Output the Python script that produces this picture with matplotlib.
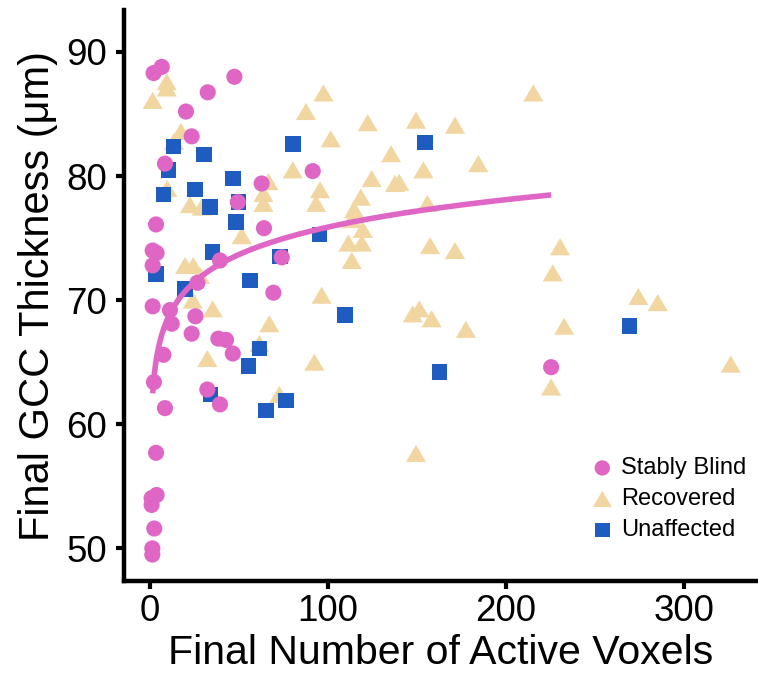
import numpy as np
import matplotlib
matplotlib.use("Agg")
import matplotlib.pyplot as plt

plt.rcParams['font.family'] = ['Liberation Sans', 'DejaVu Sans']

# Stably Blind
blind_x = [2.0, 6.6, 47.4, 32.4, 20.2, 23.4, 8.4, 91.4, 62.7, 49.3, 3.4, 64.0,
           1.5, 3.7, 1.5, 74.0, 39.3, 26.6, 69.3, 1.5, 11.2, 12.2, 25.5, 23.4,
           38.4, 42.7, 46.5, 7.5, 2.2, 32.2, 39.3, 8.4, 3.4, 3.7, 0.9, 0.9,
           2.4, 1.3, 1.3, 225.3]
blind_y = [88.3, 88.8, 88.0, 86.75, 85.2, 83.2, 81.0, 80.4, 79.4, 77.9, 76.1, 75.8,
           74.0, 73.8, 72.8, 73.45, 73.2, 71.4, 70.6, 69.5, 69.2, 68.1, 68.7, 67.3,
           66.9, 66.8, 65.7, 65.6, 63.4, 62.8, 61.6, 61.3, 57.7, 54.3, 54.05, 53.5,
           51.6, 50.0, 49.5, 64.6]

# Recovered
recov_x = [9.4, 9.4, 1.5, 17.4, 13.5, 80.2, 9.7, 66.5, 63.7, 63.7, 22.5, 29.0,
           95.5, 93.3, 51.5, 97.4, 87.6, 122.3, 149.4, 171.3, 101.5, 135.4, 153.6,
           184.4, 124.5, 137.6, 140.0, 118.4, 114.6, 113.3, 155.8, 119.5, 111.4,
           119.0, 113.3, 157.3, 171.3, 96.4, 147.6, 151.3, 158.2, 177.4, 92.3,
           149.4, 215.3, 230.3, 226.2, 274.3, 285.2, 232.6, 326.2, 225.3,
           19.7, 24.3, 28.1, 24.0, 35.2, 67.0, 61.4, 32.2, 72.6]
recov_y = [87.6, 87.1, 86.1, 83.6, 82.8, 80.5, 79.0, 79.55, 78.6, 77.8, 77.7, 77.5,
           78.9, 77.8, 75.2, 86.7, 85.2, 84.3, 84.5, 84.1, 83.0, 81.8, 80.5,
           81.0, 79.8, 79.4, 79.5, 78.3, 77.3, 76.5, 77.8, 75.7, 74.6,
           74.6, 73.2, 74.4, 74.0, 70.4, 68.9, 69.3, 68.5, 67.65, 65.0,
           57.65, 86.7, 74.3, 72.2, 70.3, 69.8, 67.9, 64.85, 63.0,
           72.8, 72.8, 72.0, 70.0, 69.3, 68.1, 66.5, 65.3, 62.4]

# Unaffected
unaff_x = [13.1, 30.3, 80.2, 10.3, 46.5, 25.3, 7.5, 33.7, 49.6, 48.3, 35.2, 3.4,
           73.0, 19.7, 56.2, 61.4, 55.2, 34.1, 76.4, 65.2, 95.1, 154.5, 109.6,
           162.5, 269.3]
unaff_y = [82.4, 81.75, 82.6, 80.5, 79.8, 78.9, 78.5, 77.5, 77.9, 76.3, 73.9, 72.1,
           73.5, 70.9, 71.6, 66.1, 64.7, 62.4, 61.9, 61.1, 75.3, 82.7, 68.8,
           64.2, 67.9]

# logarithmic fit: y = a + b*ln(x)
fit_a = 61.2
fit_b = 3.19
fit_range = (1.5, 225.3)

pink = '#E066C6'
tan = '#F2D6A2'
blue = '#1F5CBF'

tri = [(-1, -0.85), (1, -0.85), (0, 0.85)]

fig = plt.figure(figsize=(7.58, 6.73), dpi=100)
ax = fig.add_axes([0.1636, 0.1367, 0.8364, 0.8484])

ax.scatter(blind_x, blind_y, s=135, marker='o', color=pink, edgecolors='none',
           label='Stably Blind', zorder=3)
ax.scatter(recov_x, recov_y, s=210, marker=tri, color=tan, edgecolors='none',
           label='Recovered', zorder=2)
ax.scatter(unaff_x, unaff_y, s=125, marker='s', color=blue, edgecolors='none',
           label='Unaffected', zorder=2)

fx = np.linspace(fit_range[0], fit_range[1], 400)
ax.plot(fx, fit_a + fit_b * np.log(fx), color=pink, linewidth=4, zorder=4,
        solid_capstyle='butt')

ax.set_xlim(-14.6, 341.5)
ax.set_ylim(47.37, 93.38)
ax.set_xticks([0, 100, 200, 300])
ax.set_yticks([50, 60, 70, 80, 90])

for side in ['top', 'right']:
    ax.spines[side].set_visible(False)
for side in ['left', 'bottom']:
    ax.spines[side].set_linewidth(3.2)
ax.tick_params(width=3, length=6, labelsize=26.5, pad=3, colors='black')
ax.tick_params(axis='y', pad=6)

ax.set_xlabel('Final Number of Active Voxels', fontsize=29.5, labelpad=4)
ax.set_ylabel('Final GCC Thickness (μm)', fontsize=30, labelpad=6)

leg = ax.legend(loc='lower left', bbox_to_anchor=(0.779, 0.196),
                bbox_transform=fig.transFigure, frameon=False,
                fontsize=17, handlelength=1.0, handletextpad=0.3,
                labelspacing=0.38, markerscale=0.95, borderaxespad=0,
                borderpad=0)

plt.savefig('out.png', dpi=100)
